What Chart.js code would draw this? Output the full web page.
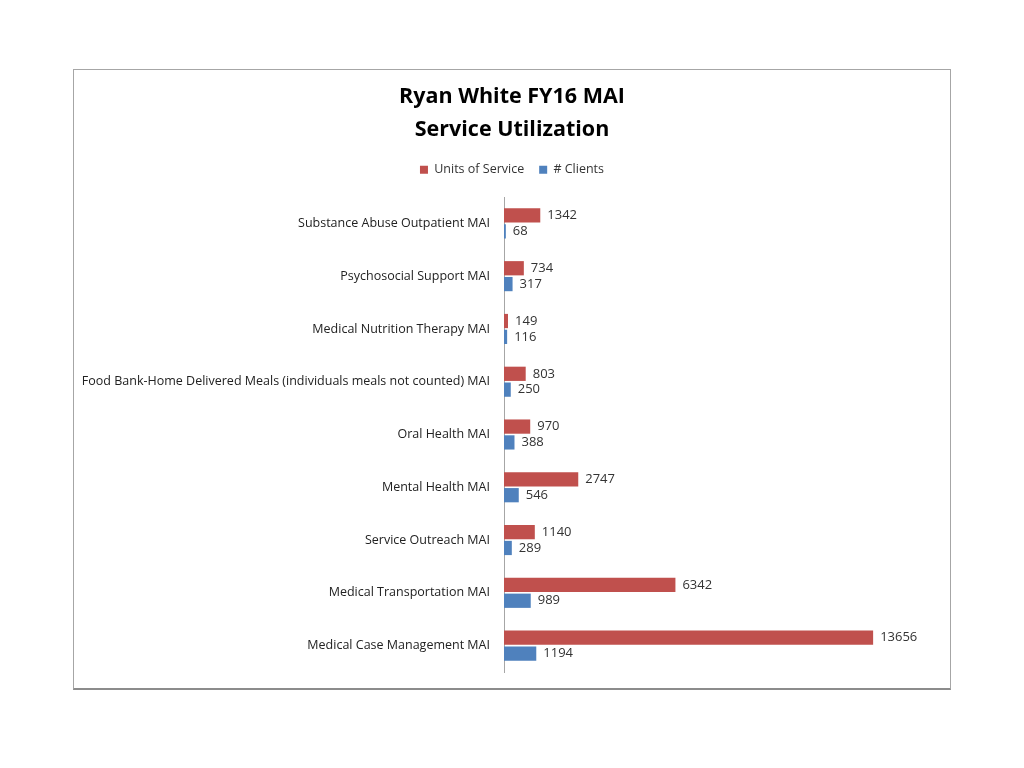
<!DOCTYPE html>
<html>
<head>
<meta charset="utf-8">
<script src="https://cdn.jsdelivr.net/npm/chart.js@4/dist/chart.umd.min.js"></script>
<style>
  body { margin: 0; background: #fff; }
  #caja {
    position: absolute; left: 73px; top: 69px;
    width: 876px; height: 618px;
    border: 1px solid #a6a6a6;
    border-bottom: 2px solid #8c8c8c;
  }
</style>
</head>
<body>
<div id="caja"><canvas id="myChart" width="876" height="618"></canvas></div>
<script>
// Datos
let categorias = [
  "Substance Abuse Outpatient MAI",
  "Psychosocial Support MAI",
  "Medical Nutrition Therapy MAI",
  "Food Bank-Home Delivered Meals (individuals meals not counted) MAI",
  "Oral Health MAI",
  "Mental Health MAI",
  "Service Outreach MAI",
  "Medical Transportation MAI",
  "Medical Case Management MAI",
];
let unidades = [1342, 734, 149, 803, 970, 2747, 1140, 6342, 13656];
let clientes = [68, 317, 116, 250, 388, 546, 289, 989, 1194];

// etiquetas al final de cada barra
const etiquetas = {
  id: 'etiquetas',
  afterDatasetsDraw(chart) {
    const ctx = chart.ctx;
    ctx.save();
    ctx.font = '13px "Open Sans"';
    ctx.fillStyle = '#333';
    ctx.textBaseline = 'middle';
    chart.data.datasets.forEach((ds, i) => {
      chart.getDatasetMeta(i).data.forEach((bar, j) => {
        ctx.fillText(ds.data[j], bar.x + 7, bar.y);
      });
    });
    ctx.restore();
  }
};

// mas espacio debajo de la leyenda
const espacioLeyenda = {
  id: 'espacioLeyenda',
  beforeInit(chart) {
    const fit = chart.legend.fit;
    chart.legend.fit = function () {
      fit.call(this);
      this.height += 11;
    };
  }
};

const ctx = document.getElementById('myChart').getContext('2d');
const myChart = new Chart(ctx, {
  type: 'bar',
  data: {
    labels: categorias,
    datasets: [{
      label: 'Units of Service',
      data: unidades,
      backgroundColor: '#c0504d',
      barPercentage: 0.9,
      categoryPercentage: 0.6
    }, {
      label: '# Clients',
      data: clientes,
      backgroundColor: '#4f81bd',
      barPercentage: 0.9,
      categoryPercentage: 0.6
    }]
  },
  options: {
    indexAxis: 'y',
    responsive: false,
    animation: false,
    layout: { autoPadding: false, padding: { top: 11, right: 0, bottom: 16, left: 0 } },
    plugins: {
      title: {
        display: true,
        text: ['Ryan White FY16 MAI', 'Service Utilization'],
        color: '#000',
        font: { family: '"Open Sans"', size: 21.5, weight: 'bold', lineHeight: 1.5 },
        padding: { top: 0, bottom: 3 }
      },
      legend: {
        labels: {
          boxWidth: 8, boxHeight: 8,
          padding: 15,
          color: '#333',
          font: { family: '"Open Sans"', size: 12.5 }
        }
      },
      tooltip: { enabled: false }
    },
    scales: {
      x: {
        display: false,
        min: 0,
        max: 16500
      },
      y: {
        afterFit: (scale) => { scale.width = 430; },
        grid: { drawOnChartArea: false, drawTicks: true, tickLength: 14, color: 'rgba(0,0,0,0)' },
        border: { color: '#a6a6a6' },
        ticks: {
          color: '#222',
          padding: 0,
          font: { family: '"Open Sans"', size: 12.5 }
        }
      }
    }
  },
  plugins: [etiquetas, espacioLeyenda]
});
</script>
</body>
</html>
